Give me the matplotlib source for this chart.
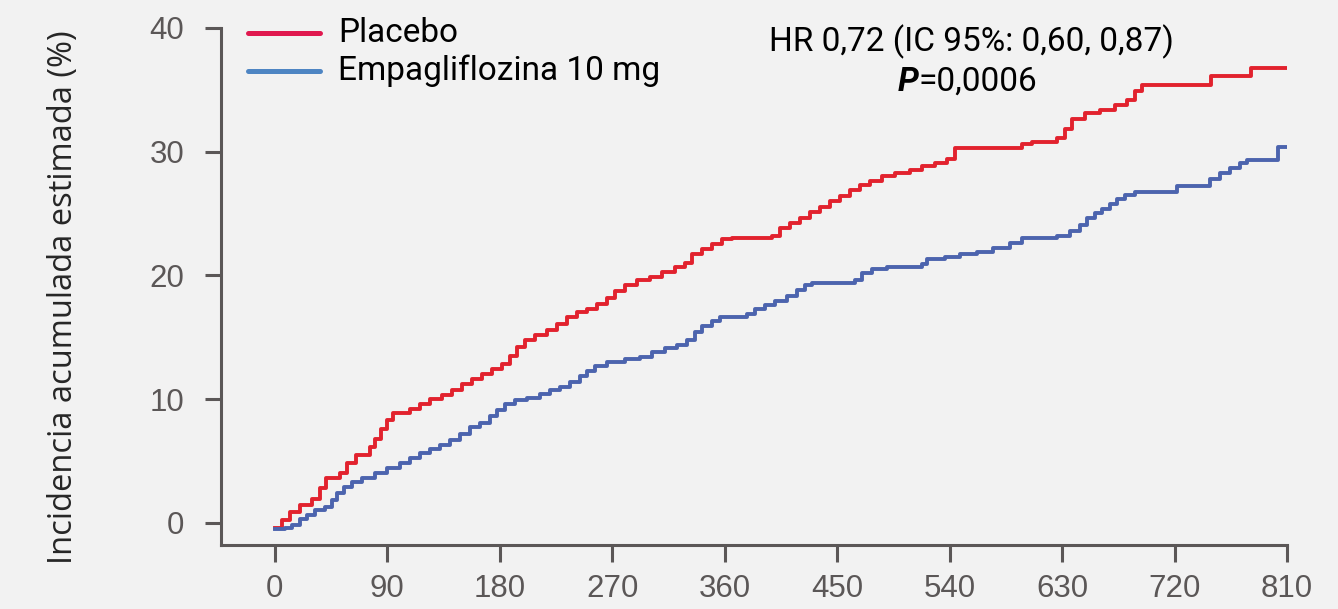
import matplotlib
matplotlib.use('Agg')
import matplotlib.pyplot as plt

# ========== DATA ==========
placebo_days = [0, 6, 12, 20, 30, 36, 41, 52, 58, 65, 76, 80, 85, 90, 95, 108, 116, 124, 134,
                142, 150, 158, 166, 174, 182, 188, 194, 200, 208, 218, 226, 234, 242, 250,
                258, 266, 272, 280, 290, 300, 310, 320, 328, 334, 342, 350, 358, 366, 398,
                404, 412, 420, 428, 436, 444, 452, 460, 468, 476, 486, 496, 508, 518, 528,
                538, 544, 598, 606, 626, 632, 638, 648, 660, 672, 682, 688, 694, 749, 781, 810]
placebo_pct = [-0.4, 0.2, 0.9, 1.4, 1.9, 2.8, 3.6, 4.0, 4.8, 5.5, 6.1, 6.8, 7.6, 8.3, 8.9, 9.2,
               9.6, 10.0, 10.3, 10.7, 11.2, 11.6, 12.0, 12.4, 12.8, 13.5, 14.2, 14.8, 15.2,
               15.6, 16.1, 16.6, 17.0, 17.3, 17.7, 18.2, 18.7, 19.2, 19.6, 19.9, 20.3, 20.7,
               21.0, 21.7, 22.1, 22.5, 22.9, 23.05, 23.2, 23.8, 24.2, 24.6, 25.1, 25.5, 26.0,
               26.4, 26.9, 27.3, 27.6, 28.0, 28.3, 28.5, 28.8, 29.1, 29.4, 30.3, 30.6, 30.8,
               31.1, 31.8, 32.6, 33.1, 33.4, 33.8, 34.2, 34.9, 35.4, 36.1, 36.8, 36.8]

empa_days = [0, 8, 14, 20, 26, 32, 40, 46, 50, 55, 62, 70, 80, 90, 100, 108, 116, 124, 132,
             140, 148, 156, 164, 172, 178, 184, 192, 202, 212, 220, 228, 236, 244, 250, 256,
             266, 280, 292, 302, 312, 322, 330, 336, 342, 350, 356, 378, 384, 392, 400, 410,
             418, 424, 430, 464, 470, 478, 490, 518, 522, 536, 548, 562, 575, 588, 598, 626,
             636, 644, 650, 656, 662, 668, 674, 680, 688, 722, 748, 756, 764, 772, 778, 803, 810]
empa_pct = [-0.5, -0.4, -0.2, 0.3, 0.6, 1.0, 1.3, 1.8, 2.4, 2.9, 3.3, 3.6, 4.0, 4.4, 4.8, 5.2,
            5.6, 6.0, 6.3, 6.7, 7.2, 7.7, 8.1, 8.6, 9.1, 9.6, 9.9, 10.1, 10.4, 10.7, 11.0,
            11.4, 11.9, 12.3, 12.7, 13.0, 13.2, 13.4, 13.8, 14.1, 14.4, 14.8, 15.4, 15.9,
            16.3, 16.6, 16.9, 17.3, 17.6, 17.9, 18.3, 18.8, 19.2, 19.4, 19.6, 20.2, 20.5,
            20.7, 20.9, 21.3, 21.5, 21.7, 21.9, 22.2, 22.6, 23.0, 23.2, 23.6, 24.1, 24.6,
            25.0, 25.4, 25.8, 26.2, 26.5, 26.7, 27.2, 27.8, 28.3, 28.7, 29.1, 29.3, 30.4, 30.4]

x_ticks = [0, 90, 180, 270, 360, 450, 540, 630, 720, 810]
y_ticks = [0, 10, 20, 30, 40]

series_labels = ["Placebo", "Empagliflozina 10 mg"]
hr_text = "HR 0,72 (IC 95%: 0,60, 0,87)"
p_value = "=0,0006"

# ========== STYLE ==========
BG = "#f2f2f2"
AXIS_GRAY = "#5b5757"
RED_LINE = "#e2222e"
BLUE_LINE = "#4c64ae"
RED_KEY = "#e0194f"
BLUE_KEY = "#4e85c3"
COND_FONT = ["Roboto", "DejaVu Sans"]

fig = plt.figure(figsize=(13.38, 6.09), dpi=100, facecolor=BG)
ax = fig.add_axes([0.1652, 0.1051, 0.7967, 0.849])
ax.set_facecolor(BG)

ax.step(placebo_days, placebo_pct, where='post', color=RED_LINE, lw=2.8, zorder=3)
ax.step(empa_days, empa_pct, where='post', color=BLUE_LINE, lw=2.8, zorder=3)

ax.set_xlim(-43, 810)
ax.set_ylim(-1.8, 40)
ax.set_xticks(x_ticks)
ax.set_yticks(y_ticks)

for side in ["top", "right"]:
    ax.spines[side].set_visible(False)
for side in ["left", "bottom"]:
    ax.spines[side].set_color(AXIS_GRAY)
    ax.spines[side].set_linewidth(2.2)

ax.tick_params(axis='y', length=11.5, width=2.2, color=AXIS_GRAY, pad=15,
               labelsize=22.5, labelcolor=AXIS_GRAY)
ax.tick_params(axis='x', length=12, width=2.2, color=AXIS_GRAY, pad=9,
               labelsize=22.5, labelcolor=AXIS_GRAY)
for lab in ax.get_xticklabels() + ax.get_yticklabels():
    lab.set_family("Liberation Sans")

ax.set_ylabel("Incidencia acumulada estimada (%)", fontsize=23.5, color="#262626",
              family="Open Sans")
ax.yaxis.set_label_coords(-0.132, 0.48)

# legend, drawn by hand
key_rows = [(0.990, RED_KEY, series_labels[0]), (0.917, BLUE_KEY, series_labels[1])]
for y, col, lab in key_rows:
    ax.plot([0.0253, 0.093], [y, y], transform=ax.transAxes, color=col, lw=3.6,
            solid_capstyle='round', clip_on=False)
    ax.text(0.110, y, lab, transform=ax.transAxes, ha='left', va='center',
            fontsize=24, family=COND_FONT, color="black")

# HR annotation
ax.text(0.7036, 0.973, hr_text, transform=ax.transAxes, ha='center', va='center',
        fontsize=24, family=COND_FONT, color="black")
p_txt = ax.text(0.635, 0.8956, "P", transform=ax.transAxes, ha='left', va='center',
                fontsize=24, family=COND_FONT, weight='bold', style='italic', color="black")
ax.annotate(p_value, xy=(1, 0), xycoords=p_txt, ha='left', va='bottom',
            fontsize=24, family=COND_FONT, color="black")

fig.savefig("out.png", dpi=100, facecolor=BG)
